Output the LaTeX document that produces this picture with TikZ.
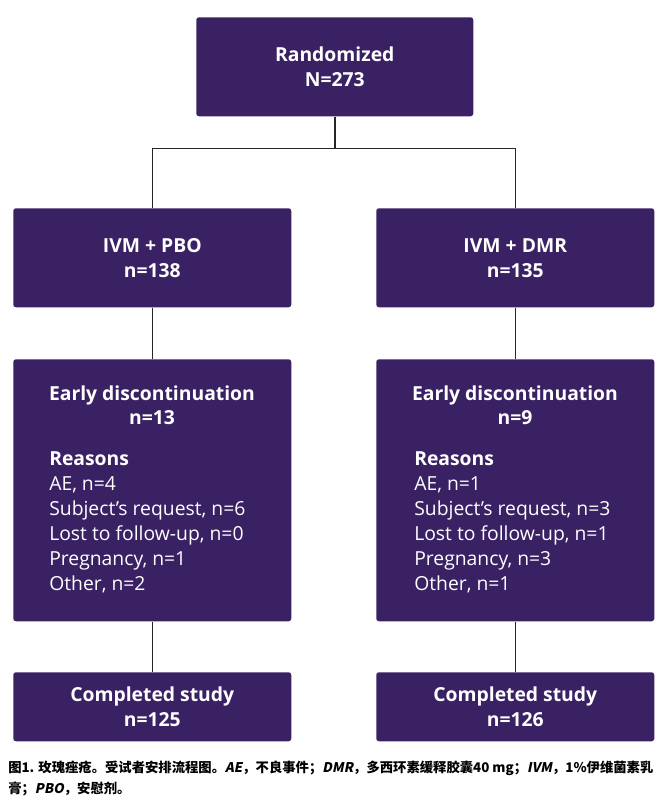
\documentclass[tikz,border=0pt]{standalone}
\usepackage{fontspec}
\setmainfont{Open Sans}
\newfontfamily\cjk{Noto Sans CJK SC}
\newfontfamily\cjkit[FakeSlant=0.2]{Noto Sans CJK SC}
\usetikzlibrary{positioning}
\definecolor{boxpurple}{RGB}{58,33,100}

\begin{document}
\begin{tikzpicture}[x=0.75pt, y=-0.75pt,
    box/.style={fill=boxpurple, rounded corners=2pt, anchor=north west, inner sep=0pt,
        minimum width=208.5pt, text=white, align=center,
        font=\fontsize{14.5}{18.75}\selectfont\bfseries},
    head/.style={text=white, align=center, font=\fontsize{14.5}{18}\selectfont\bfseries},
    reasons/.style={text=white, align=left, anchor=north west, inner sep=0pt,
        font=\fontsize{14.5}{18.75}\selectfont},
    link/.style={draw=black!85, line width=1.1pt}]
    \useasboundingbox (0,0) rectangle (667,806);

    % Boxes
    \node[box, minimum width=207.75pt, minimum height=74.25pt] (rand) at (196,17) {Randomized\\N=273};
    \node[box, minimum height=74.25pt] (pbo) at (13,208) {IVM + PBO\\n=138};
    \node[box, minimum height=74.25pt] (dmr) at (376,208) {IVM + DMR\\n=135};
    \node[box, minimum height=196.5pt] (discpbo) at (13,359) {};
    \node[box, minimum height=196.5pt] (discdmr) at (376,359) {};
    \node[box, minimum height=51.75pt] (donepbo) at (13,672) {Completed study\\n=125};
    \node[box, minimum height=51.75pt] (donedmr) at (376,672) {Completed study\\n=126};

    % Early discontinuation
    \node[head] (headpbo) at (152,405) {Early discontinuation\\n=13};
    \node[head] (headdmr) at (515,405) {Early discontinuation\\n=9};
    \node[reasons] (whypbo) at (49,451) {\textbf{Reasons}\\AE, n=4\\Subject’s request, n=6\\Lost to follow-up, n=0\\Pregnancy, n=1\\Other, n=2};
    \node[reasons] (whydmr) at (414,451) {\textbf{Reasons}\\AE, n=1\\Subject’s request, n=3\\Lost to follow-up, n=1\\Pregnancy, n=3\\Other, n=1};

    % Connectors
    \draw[link] (rand.south) -- ++(0,32) -| (pbo.north);
    \draw[link] (rand.south) -- ++(0,32) -| (dmr.north);
    \draw[link] (pbo.south) -- (discpbo.north);
    \draw[link] (dmr.south) -- (discdmr.north);
    \draw[link] (discpbo.south) -- (donepbo.north);
    \draw[link] (discdmr.south) -- (donedmr.north);

    % Caption
    \node[anchor=north west, inner sep=0pt, align=left,
        font=\cjk\bfseries\fontsize{10}{15.5}\selectfont] (caption) at (8,761)
        {图1. 玫瑰痤疮。受试者安排流程图。{\cjkit AE}，不良事件；{\cjkit DMR}，多西环素缓释胶囊40 mg；{\cjkit IVM}，1\%伊维菌素乳\\
         膏；{\cjkit PBO}，安慰剂。};
\end{tikzpicture}
\end{document}
